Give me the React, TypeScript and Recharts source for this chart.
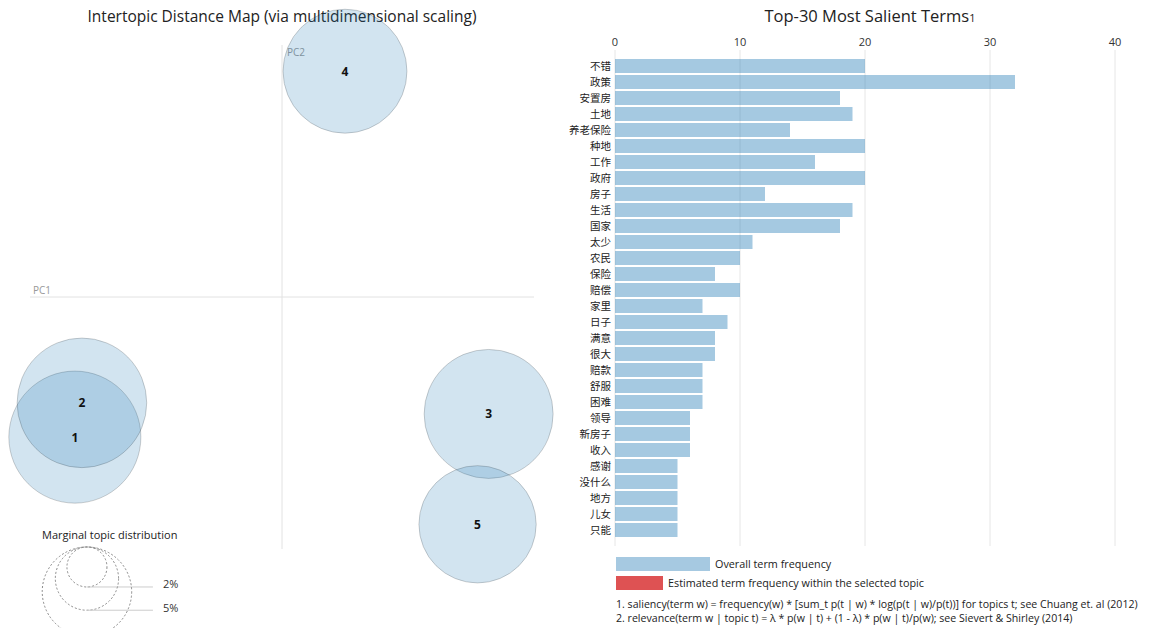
import React from 'react';
import {
  ScatterChart, Scatter, XAxis, YAxis, ZAxis, ReferenceLine,
  BarChart, Bar, CartesianGrid,
} from 'recharts';

// ---- Intertopic distance map data ----
const topicIds = [1, 2, 3, 4, 5];
const topicPC1 = [-0.411, -0.397, 0.410, 0.125, 0.388];
const topicPC2 = [-0.278, -0.210, -0.232, 0.448, -0.451];
const topicShare = [21.8, 21.0, 20.8, 19.2, 17.2]; // marginal topic distribution, %

const legendShares = [2, 5, 10];
const legendAnchorPC1 = -0.387;
const legendAnchorPC2 = -0.496;

// ---- Top-30 most salient terms ----
const terms = [
  '不错', '政策', '安置房', '土地', '养老保险', '种地', '工作', '政府', '房子', '生活',
  '国家', '太少', '农民', '保险', '赔偿', '家里', '日子', '满意', '很大', '赔款',
  '舒服', '困难', '领导', '新房子', '收入', '感谢', '没什么', '地方', '儿女', '只能',
];
const termFreq = [
  20, 32, 18, 19, 14, 20, 16, 20, 12, 19,
  18, 11, 10, 8, 10, 7, 9, 8, 8, 7,
  7, 7, 6, 6, 6, 5, 5, 5, 5, 5,
];
const freqTicks = [0, 10, 20, 30, 40];

const topicData = topicIds.map((id, i) => ({ id, x: topicPC1[i], y: topicPC2[i], z: topicShare[i] }));
const legendData = legendShares.map((s) => ({ x: legendAnchorPC1, y: legendAnchorPC2, z: s, label: `${s}%` }));
const barData = terms.map((t, i) => ({ term: t, freq: termFreq[i] }));

const LATIN = '"Open Sans", "Noto Sans", sans-serif';
const CJK = '"Noto Sans CJK SC", "Noto Sans", sans-serif';

const radiusOf = (p: any) => (p.width != null ? p.width / 2 : Math.sqrt((p.size || 0) / Math.PI));

const TopicCircle = (p: any) => (
  <circle cx={p.cx} cy={p.cy} r={radiusOf(p)} fill="#1f77b4" fillOpacity={0.2}
    stroke="#000" strokeOpacity={0.18} strokeWidth={1} />
);

const TopicLabel = (p: any) => (
  <text x={p.cx} y={p.cy} textAnchor="middle" dominantBaseline="central"
    fontFamily={LATIN} fontWeight="bold" fontSize={12} fill="#111">{p.payload.id}</text>
);

const LegendCircle = (p: any) => {
  const r = radiusOf(p);
  const bottom = p.cy + 2 * r;
  return (
    <g>
      <circle cx={p.cx} cy={p.cy + r} r={r} fill="none" stroke="#888" strokeWidth={1} strokeDasharray="2 2" />
      <line x1={p.cx} x2={p.cx + 66} y1={bottom} y2={bottom} stroke="#ccc" strokeWidth={1} />
      <text x={p.cx + 76} y={bottom - 3} dominantBaseline="central" fontFamily={LATIN} fontSize={11} fill="#333">{p.payload.label}</text>
    </g>
  );
};

export default function App() {
  return (
    <div style={{ position: 'absolute', left: 0, top: 0, width: 1151, height: 628, background: '#fff', overflow: 'hidden' }}>
      <div style={{ position: 'absolute', left: 0, width: 564, top: 5, textAlign: 'center', fontFamily: LATIN, fontSize: 15.5, color: '#222', whiteSpace: 'nowrap' }}>
        Intertopic Distance Map (via multidimensional scaling)
      </div>
      <div style={{ position: 'absolute', left: 560, width: 620, top: 4, textAlign: 'center', fontFamily: LATIN, fontSize: 16.5, color: '#222', whiteSpace: 'nowrap' }}>
        Top-30 Most Salient Terms<span style={{ fontSize: 11 }}>1</span>
      </div>
      <div style={{ position: 'absolute', left: 42, top: 527, fontFamily: LATIN, fontSize: 11, color: '#222', whiteSpace: 'nowrap' }}>
        Marginal topic distribution
      </div>

      <div style={{ position: 'absolute', left: 0, top: 0 }}>
        <ScatterChart width={560} height={628} margin={{ top: 45, right: 26, bottom: 79, left: 30 }}>
          <XAxis type="number" dataKey="x" domain={[-0.5, 0.5]} hide />
          <YAxis type="number" dataKey="y" domain={[-0.5, 0.5]} hide />
          <ZAxis type="number" dataKey="z" domain={[0, 100]} range={[0, Math.PI * 200 * 100]} />
          <ReferenceLine x={0} stroke="#e2e2e2" strokeWidth={1}
            label={(lp: any) => (
              <text x={lp.viewBox.x + 5} y={lp.viewBox.y + 7} dominantBaseline="central" fontFamily={LATIN} fontSize={10} fill="#999">PC2</text>
            )} />
          <ReferenceLine y={0} stroke="#e2e2e2" strokeWidth={1}
            label={(lp: any) => (
              <text x={lp.viewBox.x + 3} y={lp.viewBox.y - 7} dominantBaseline="central" fontFamily={LATIN} fontSize={10} fill="#999">PC1</text>
            )} />
          <Scatter data={topicData} shape={TopicCircle} isAnimationActive={false} />
          <Scatter data={topicData} shape={TopicLabel} isAnimationActive={false} />
          <Scatter data={legendData} shape={LegendCircle} isAnimationActive={false} />
        </ScatterChart>
      </div>

      <div style={{ position: 'absolute', left: 560, top: 0 }}>
        <BarChart width={591} height={628} data={barData} layout="vertical"
          margin={{ top: 0, right: 36, bottom: 82, left: 0 }}>
          <CartesianGrid horizontal={false} stroke="#e6e6e6" />
          <XAxis type="number" orientation="top" domain={[0, 40]} ticks={freqTicks} height={50}
            axisLine={false} tickLine={false} tickSize={0} tickMargin={4}
            tick={{ fontSize: 11, fill: '#333', fontFamily: LATIN }} />
          <YAxis type="category" dataKey="term" width={55} axisLine={false} tickLine={false}
            tickSize={0} tickMargin={4} interval={0} padding={{ top: 8, bottom: 8 }}
            tick={{ fontSize: 10.5, fill: '#222', fontFamily: CJK }} />
          <Bar dataKey="freq" fill="#1f77b4" fillOpacity={0.4} barSize={14} isAnimationActive={false} />
        </BarChart>
      </div>

      <div style={{ position: 'absolute', left: 616, top: 557, width: 94, height: 14, background: '#a6c9e1' }} />
      <div style={{ position: 'absolute', left: 715, top: 557, lineHeight: '14px', fontFamily: LATIN, fontSize: 10.8, color: '#222', whiteSpace: 'nowrap' }}>
        Overall term frequency
      </div>
      <div style={{ position: 'absolute', left: 616, top: 576, width: 47, height: 14, background: '#de5253' }} />
      <div style={{ position: 'absolute', left: 668, top: 576, lineHeight: '14px', fontFamily: LATIN, fontSize: 10.8, color: '#222', whiteSpace: 'nowrap' }}>
        Estimated term frequency within the selected topic
      </div>
      <div style={{ position: 'absolute', left: 616, top: 597, lineHeight: '14px', fontFamily: LATIN, fontSize: 10.6, color: '#222', whiteSpace: 'nowrap' }}>
        1. saliency(term w) = frequency(w) * [sum_t p(t | w) * log(p(t | w)/p(t))] for topics t; see Chuang et. al (2012)
      </div>
      <div style={{ position: 'absolute', left: 616, top: 611, lineHeight: '14px', fontFamily: LATIN, fontSize: 10.6, color: '#222', whiteSpace: 'nowrap' }}>
        2. relevance(term w | topic t) = λ * p(w | t) + (1 - λ) * p(w | t)/p(w); see Sievert &amp; Shirley (2014)
      </div>
    </div>
  );
}
